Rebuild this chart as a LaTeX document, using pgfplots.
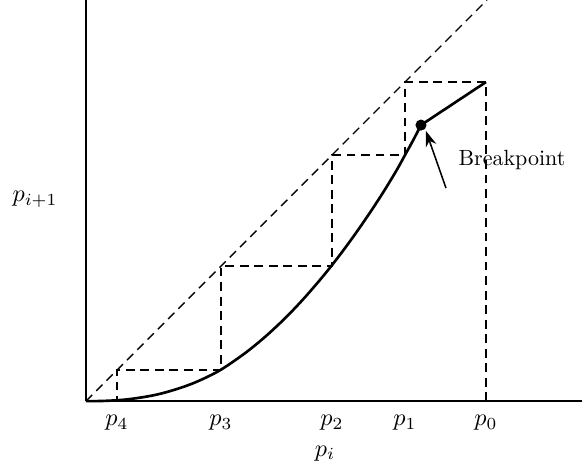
\documentclass[border=0pt]{standalone}
\usepackage{pgfplots}
\pgfplotsset{compat=1.18}
\usetikzlibrary{arrows.meta}
\begin{document}
\begin{tikzpicture}
\begin{axis}[
  scale only axis,
  width=225.4pt, height=182.3pt,
  xmin=0, xmax=496, ymin=0, ymax=401,
  axis lines=left,
  axis line style={-, line width=0.7pt},
  xtick={31,135,246,319,400},
  xticklabels={$p_4$,$p_3$,$p_2$,$p_1$,$p_0$},
  ytick=\empty,
  major tick length=0pt,
  xticklabel style={yshift=-2.5pt, scale=1.1},
  clip=false,
]
% diagonal p_{i+1} = p_i
\addplot[black, line width=0.6pt, dash pattern=on 4pt off 2.6pt] coordinates {(0,0) (401,401)};
% cobweb staircase
\addplot[black, line width=0.6pt, dash pattern=on 4pt off 2.6pt] coordinates {
  (400,0) (400,319) (319,319) (319,246) (246,246) (246,135) (135,135) (135,31) (31,31) (31,0)};
% map curve
\addplot[black, line width=1.2pt, smooth, tension=0.6] coordinates {
  (0,0) (15,0.16) (31,0.92) (45,2.24) (64,5.2) (80,8.9) (100,15.2) (117,22.2) (134,30.9)
  (150,41.5) (164,51.8) (180,65.1) (197,80.9) (214,98.4) (231,117.7) (246,136) (262,157.1)
  (278,179.7) (295,205.3) (310,229.8) (319,246) (327,260.5) (335,276)};
\addplot[black, line width=1.2pt] coordinates {(335,276) (400,319)};
% breakpoint
\addplot[black, only marks, mark=*, mark size=2.3pt] coordinates {(335,276)};
\draw[-{Stealth[length=7pt,width=5pt]}, line width=0.7pt] (axis cs:360,213) -- (axis cs:340,270);
\node at (axis cs:426,241) {Breakpoint};
\node[scale=1.1] at (axis cs:239,-52) {$p_i$};
\node[scale=1.1] at (axis cs:-51,202) {$p_{i+1}$};
\coordinate (bl) at (axis cs:-86,-70);
\coordinate (tr) at (axis cs:497,401);
\end{axis}
\pgfresetboundingbox
\path[use as bounding box] (bl) rectangle (tr);
\end{tikzpicture}
\end{document}
